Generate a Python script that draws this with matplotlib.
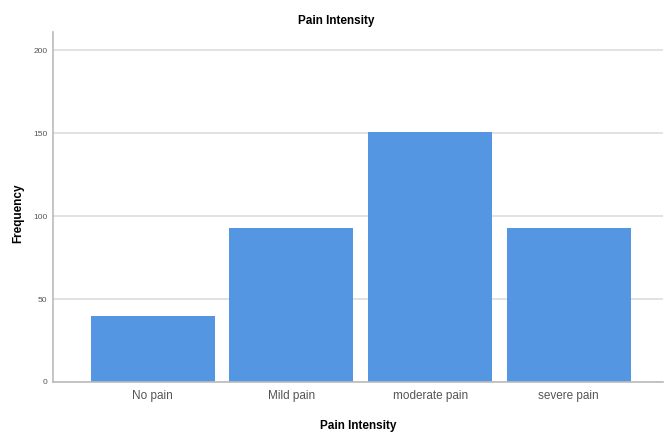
import numpy as np
import matplotlib
matplotlib.use('Agg')
import matplotlib.pyplot as plt

categories = ['No pain', 'Mild pain', 'moderate pain', 'severe pain']
frequency = [40, 93, 151, 93]
y_ticks = [0, 50, 100, 150, 200]

plt.rcParams['font.family'] = ['Liberation Sans', 'DejaVu Sans']

fig = plt.figure(figsize=(6.65, 4.33), dpi=100)
ax = fig.add_axes([0.0797, 0.1178, 0.9173, 0.8082])

xs = np.arange(len(categories))
ax.bar(xs, frequency, width=0.895, color='#5596e3', zorder=2)

ax.set_xlim(-0.72, 3.68)
ax.set_ylim(0, 211)
ax.set_yticks(y_ticks)
ax.set_xticks(xs)
ax.set_xticklabels(categories)
ax.yaxis.grid(True, color='#dddddd', linewidth=1.2, zorder=0)
ax.set_axisbelow(True)

for s in ['top', 'right']:
    ax.spines[s].set_visible(False)
for s in ['left', 'bottom']:
    ax.spines[s].set_color('#bbbbbb')
    ax.spines[s].set_linewidth(1.2)

ax.tick_params(axis='both', length=0, colors='#555555')
ax.tick_params(axis='y', labelsize=6, pad=4)
ax.tick_params(axis='x', labelsize=8.5, pad=6)

ax.set_xlabel('Pain Intensity', fontsize=8.5, fontweight='bold')
ax.xaxis.set_label_coords(0.5, -0.108)
ax.set_ylabel('Frequency', fontsize=8.5, fontweight='bold')
ax.yaxis.set_label_coords(-0.047, 0.483)
ax.set_title('Pain Intensity', fontsize=8.5, fontweight='bold', x=0.464, pad=6)

fig.savefig('out.png', dpi=100)
